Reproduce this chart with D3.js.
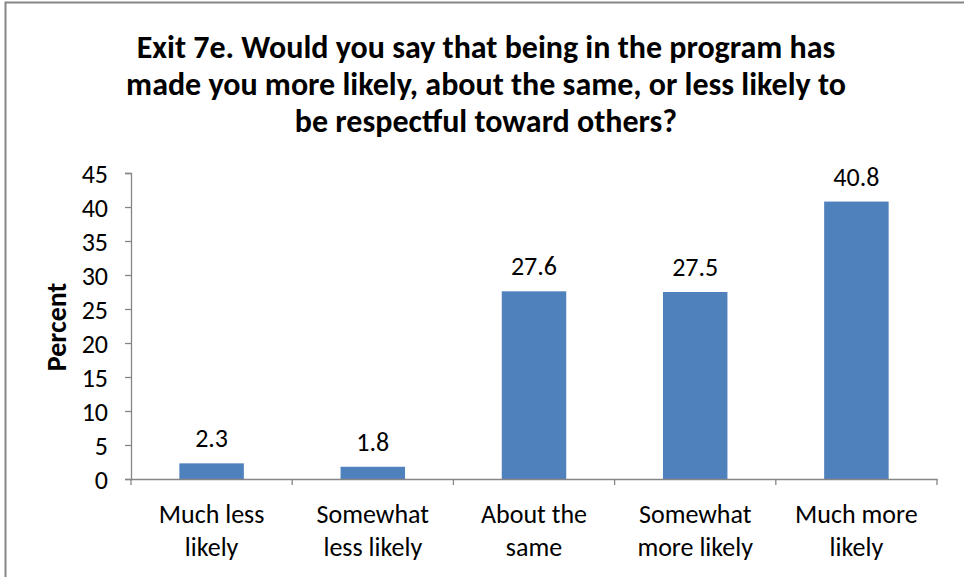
<!DOCTYPE html>
<html><head><meta charset="utf-8">
<script src="https://cdn.jsdelivr.net/npm/d3@7"></script>
<style>
html,body{margin:0;padding:0;background:#fff;}
svg text{font-family:Carlito,Calibri,Lato,sans-serif;fill:#000;}
</style></head>
<body><svg id="c" width="964" height="577"></svg>
<script>
const categories = [["Much less","likely"],["Somewhat","less likely"],["About the","same"],["Somewhat","more likely"],["Much more","likely"]];
const values = [2.3, 1.8, 27.6, 27.5, 40.8];
const yTicks = [0,5,10,15,20,25,30,35,40,45];
const titleLines = ["Exit 7e. Would you say that being in the program has","made you more likely, about the same, or less likely to","be respectful toward others?"];
const yLabel = "Percent";

const svg = d3.select("#c");
svg.append("rect").attr("x",5.5).attr("y",2.5).attr("width",1000).attr("height",1000)
  .attr("fill","none").attr("stroke","#868686").attr("stroke-width",2);

const m = {left:131, right:937, top:173, bottom:479};
const x = d3.scaleBand().domain(d3.range(categories.length)).range([m.left,m.right]).paddingInner(0.6).paddingOuter(0.3);
const xb = d3.scaleBand().domain(d3.range(categories.length)).range([m.left,m.right]);
const y = d3.scaleLinear().domain([0,45]).range([m.bottom,m.top]);

// title
svg.append("g").selectAll("text").data(titleLines).join("text")
  .attr("x",486).attr("y",(d,i)=>58+i*37).attr("text-anchor","middle")
  .style("font-weight","bold").style("font-size","32px").text(d=>d);

// bars
svg.append("g").selectAll("rect").data(values).join("rect")
  .attr("x",(d,i)=>x(i)).attr("width",x.bandwidth())
  .attr("y",d=>y(d)).attr("height",d=>y(0)-y(d)).attr("fill","#4F81BD");

// value labels
svg.append("g").selectAll("text").data(values).join("text")
  .attr("x",(d,i)=>x(i)+x.bandwidth()/2).attr("y",d=>y(d)-16)
  .attr("text-anchor","middle").style("font-size","26px").text(d=>d.toFixed(1));

// y axis
const ya = svg.append("g").attr("transform",`translate(${m.left},0)`)
  .call(d3.axisLeft(y).tickValues(yTicks).tickSize(6).tickPadding(17).tickFormat(d3.format("d")));
ya.select(".domain").attr("stroke","#868686").attr("stroke-width",1.3);
ya.selectAll(".tick line").attr("stroke","#868686").attr("stroke-width",1.3);
ya.selectAll(".tick text").style("font-size","26px").attr("font-family",null).attr("dy","0.36em");

// x axis
const xa = svg.append("g").attr("transform",`translate(0,${m.bottom})`)
  .call(d3.axisBottom(xb).tickSize(0).tickFormat(""));
xa.select(".domain").attr("stroke","#868686").attr("stroke-width",1.3);
xa.selectAll(".tick").remove();
const bounds = d3.range(categories.length+1).map(i=> i<categories.length ? xb(i) : m.right);
xa.selectAll("line.b").data(bounds).join("line").attr("class","b")
  .attr("x1",d=>d).attr("x2",d=>d).attr("y1",0).attr("y2",6)
  .attr("stroke","#868686").attr("stroke-width",1.3);

svg.append("g").selectAll("text").data(categories).join("text")
  .attr("x",(d,i)=>xb(i)+xb.bandwidth()/2).attr("text-anchor","middle")
  .style("font-size","26px")
  .each(function(d){
    d3.select(this).selectAll("tspan").data(d).join("tspan")
      .attr("x",d3.select(this).attr("x")).attr("y",(t,j)=>523+j*33).text(t=>t);
  });

// y label
svg.append("text").attr("transform","translate(66,327) rotate(-90)")
  .attr("text-anchor","middle").style("font-weight","bold").style("font-size","28px").text(yLabel);
</script></body></html>
